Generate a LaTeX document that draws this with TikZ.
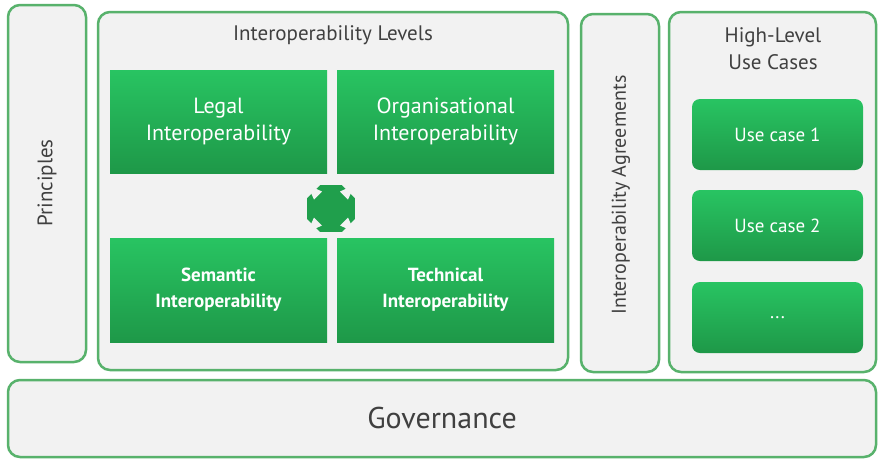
\documentclass[tikz,border=0pt]{standalone}
\usepackage{fontspec}
\setmainfont{PT Sans}
\definecolor{bord}{RGB}{88,178,108}
\definecolor{pane}{RGB}{242,242,242}
\definecolor{gtop}{RGB}{40,196,98}
\definecolor{gbot}{RGB}{30,152,72}
\definecolor{txt}{RGB}{64,64,64}
\begin{document}
\begin{tikzpicture}[x=1pt,y=-1pt,
  panel/.style={draw=bord,line width=2.5pt,fill=pane,rounded corners=12pt},
  gbox/.style={top color=gtop,bottom color=gbot,draw=none,text=white,align=center},
  ucbox/.style={gbox,rounded corners=8pt,font=\fontsize{19}{22}\selectfont}]
\useasboundingbox (0,0) rectangle (887,467);
\fill[white] (0,0) rectangle (887,467);
\draw[panel] (8,5) rectangle (86,362);
\node[rotate=90,text=txt,font=\fontsize{21}{24}\selectfont] (pr) at (47,183) {Principles};
\draw[panel] (98,12) rectangle (568,370);
\node[text=txt,font=\fontsize{21}{24}\selectfont] (lv) at (333,35) {Interoperability Levels};
\path[gbox] (110,70) rectangle (327,173) node[midway,font=\fontsize{22}{27}\selectfont] (legal) {Legal\\Interoperability};
\path[gbox] (337,70) rectangle (554,173) node[midway,font=\fontsize{22}{27}\selectfont] (org) {Organisational\\Interoperability};
\path[gbox] (110,238) rectangle (327,342) node[midway,font=\bfseries\fontsize{19}{26}\selectfont] (sem) {Semantic\\Interoperability};
\path[gbox] (337,238) rectangle (554,342) node[midway,font=\bfseries\fontsize{19}{26}\selectfont] (tech) {Technical\\Interoperability};
% icon
\fill[gbot!85!gtop] (307,185) rectangle (355,232);
\foreach \sx/\sy in {1/1,-1/1,1/-1,-1/-1}{
  \fill[pane] (331+\sx*24,208.5+\sy*23.5) -- ++(-\sx*13,0) -- ++(\sx*13,-\sy*13) -- cycle;
  \fill[pane] (331+\sx*17,208.5+\sy*9) -- (331+\sx*9,208.5+\sy*17) -- (331+\sx*20,208.5+\sy*22) -- (331+\sx*22,208.5+\sy*20) -- cycle;
}
\fill[gbot!85!gtop] (331,208.5) circle (13);
\draw[panel] (581,14) rectangle (659,372);
\node[rotate=90,text=txt,font=\fontsize{20}{24}\selectfont] (ag) at (621,195) {Interoperability Agreements};
\draw[panel] (669,12) rectangle (876,372);
\node[text=txt,align=center,font=\fontsize{21}{27}\selectfont] (hl) at (773,49) {High-Level\\Use Cases};
\path[ucbox] (692,99) rectangle (863,170) node[midway] (u1) {Use case 1};
\path[ucbox] (692,190) rectangle (863,261) node[midway] (u2) {Use case 2};
\path[ucbox] (692,282) rectangle (863,353) node[midway] (u3) {...};
\draw[panel] (8,380) rectangle (876,457);
\node[text=txt,font=\fontsize{30}{34}\selectfont] (gov) at (442,418) {Governance};
\end{tikzpicture}
\end{document}
